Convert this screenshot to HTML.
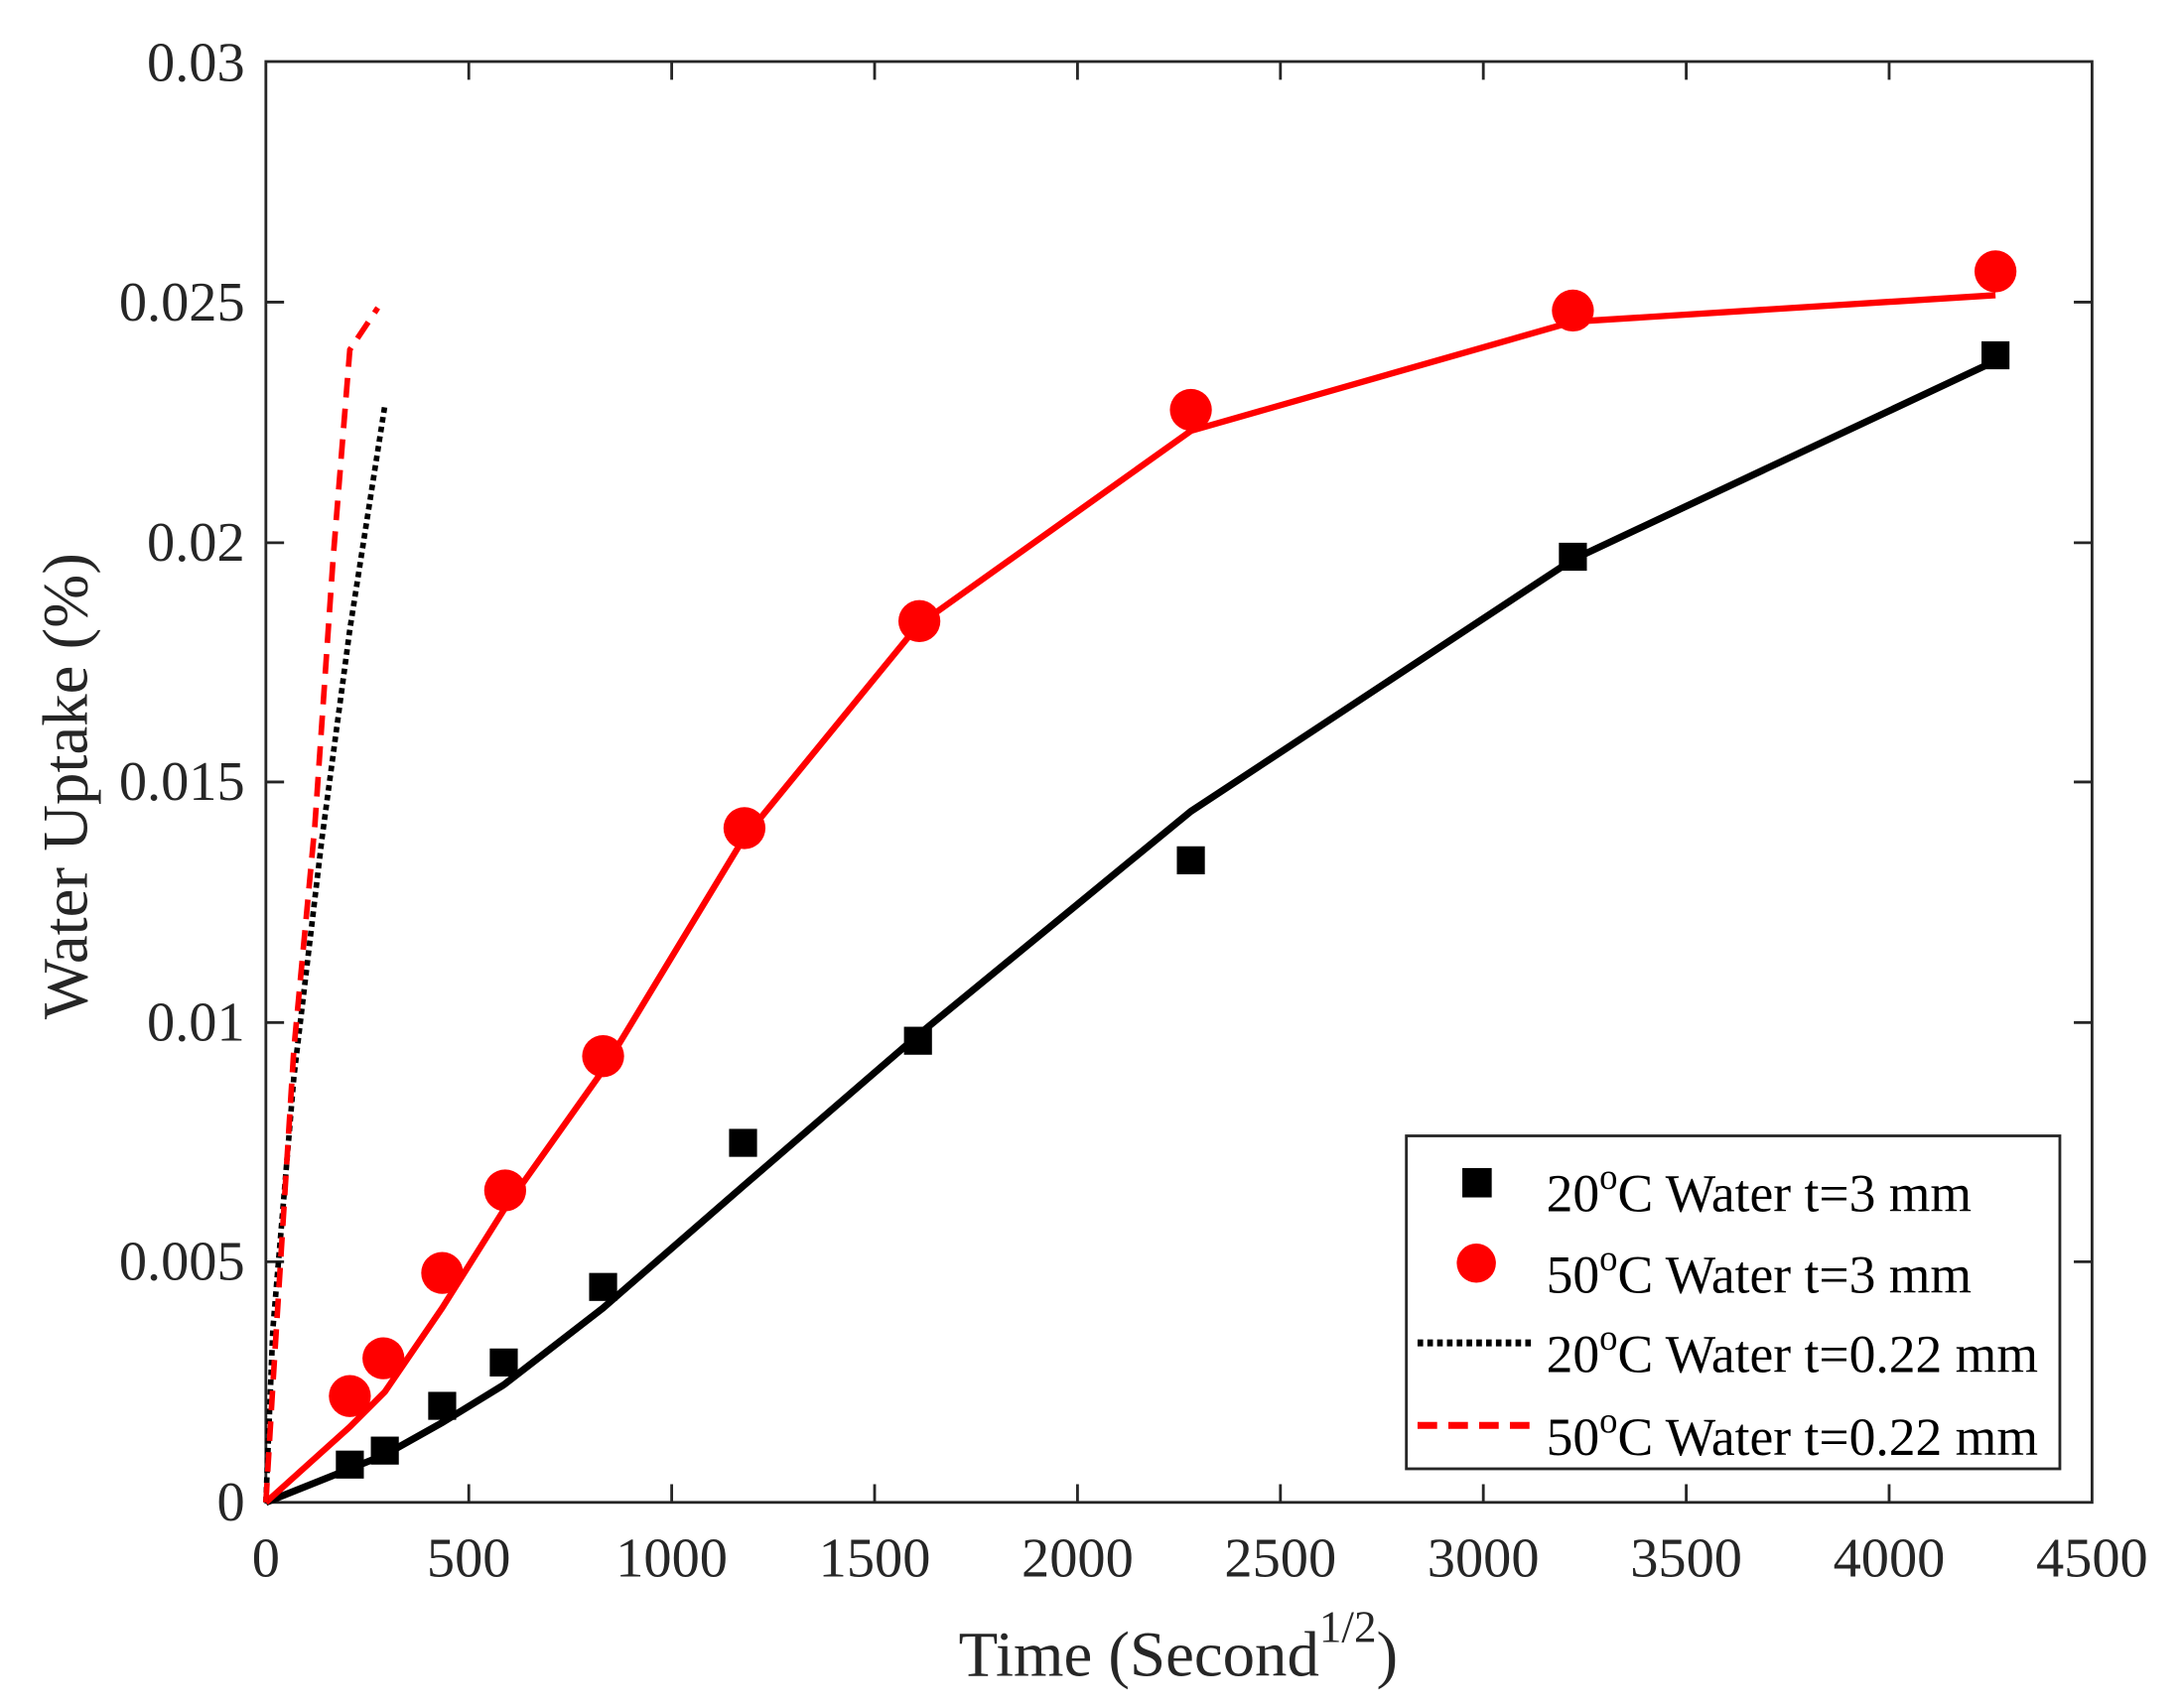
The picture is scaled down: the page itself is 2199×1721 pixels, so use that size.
<!DOCTYPE html>
<html><head><style>html,body{margin:0;padding:0;background:#fff}svg{display:block}</style></head>
<body>
<svg width="2199" height="1721" viewBox="0 0 1560 1221" preserveAspectRatio="none" xmlns="http://www.w3.org/2000/svg" font-family="Liberation Serif, serif">
<rect width="1560" height="1221" fill="#fff"/>
<rect x="190" y="44" width="1305" height="1030" fill="none" stroke="#262626" stroke-width="2"/>
<g stroke="#262626" stroke-width="2">
<path d="M335,1074v-13M480,1074v-13M625,1074v-13M770,1074v-13M915,1074v-13M1060,1074v-13M1205,1074v-13M1350,1074v-13"/>
<path d="M335,44v13M480,44v13M625,44v13M770,44v13M915,44v13M1060,44v13M1205,44v13M1350,44v13"/>
<path d="M190,902h13M190,731h13M190,559h13M190,388h13M190,216h13"/>
<path d="M1495,902h-13M1495,731h-13M1495,559h-13M1495,388h-13M1495,216h-13"/>
</g>
<g fill="#262626" font-size="40" text-anchor="middle">
<text x="190" y="1127">0</text><text x="335" y="1127">500</text><text x="480" y="1127">1000</text><text x="625" y="1127">1500</text><text x="770" y="1127">2000</text><text x="915" y="1127">2500</text><text x="1060" y="1127">3000</text><text x="1205" y="1127">3500</text><text x="1350" y="1127">4000</text><text x="1495" y="1127">4500</text>
</g>
<g fill="#262626" font-size="40" text-anchor="end">
<text x="175" y="1087">0</text><text x="175" y="915">0.005</text><text x="175" y="744">0.01</text><text x="175" y="572">0.015</text><text x="175" y="401">0.02</text><text x="175" y="229">0.025</text><text x="175" y="58">0.03</text>
</g>
<text x="842" y="1198" font-size="46" fill="#262626" text-anchor="middle">Time (Second<tspan dy="-24" font-size="32">1/2</tspan><tspan dy="24">)</tspan></text>
<text transform="translate(62,562) rotate(-90)" font-size="46" fill="#262626" text-anchor="middle">Water Uptake (%)</text>
<polyline fill="none" stroke="#000" stroke-width="5" points="190,1074 250,1050 275,1040 316,1017 360,990 431,935 531,848 656,740 851,580 1124,400 1426,258"/>
<polyline fill="none" stroke="#f00" stroke-width="4.5" points="190,1074 250,1020 275,995 316,935 360,865 431,765 531,600 656,447 851,308 1124,230 1426,211"/>
<polyline fill="none" stroke="#000" stroke-width="4" stroke-dasharray="4,3" points="190,1074 195,950 210,770 230,600 250,450 275,290"/>
<polyline fill="none" stroke="#f00" stroke-width="4" stroke-dasharray="14,8" points="190,1074 195,990 210,750 225,590 238,400 250,250 270,220"/>
<g fill="#000">
<rect x="240" y="1037" width="20" height="20"/><rect x="265" y="1027" width="20" height="20"/><rect x="306" y="995" width="20" height="20"/><rect x="350" y="964" width="20" height="20"/><rect x="421" y="910" width="20" height="20"/><rect x="521" y="807" width="20" height="20"/><rect x="646" y="734" width="20" height="20"/><rect x="841" y="605" width="20" height="20"/><rect x="1114" y="388" width="20" height="20"/><rect x="1416" y="244" width="20" height="20"/>
</g>
<g fill="#f00">
<circle cx="250" cy="998" r="15"/><circle cx="274" cy="971" r="15"/><circle cx="316" cy="910" r="15"/><circle cx="361" cy="851" r="15"/><circle cx="431" cy="755" r="15"/><circle cx="532" cy="592" r="15"/><circle cx="657" cy="444" r="15"/><circle cx="851" cy="293" r="15"/><circle cx="1124" cy="222" r="15"/><circle cx="1426" cy="194" r="15"/>
</g>
<rect x="1005" y="812" width="467" height="238" fill="#fff" stroke="#262626" stroke-width="2"/>
<rect x="1045" y="835" width="21" height="21" fill="#000"/>
<circle cx="1055" cy="903" r="14" fill="#f00"/>
<line x1="1013" y1="960" x2="1097" y2="960" stroke="#000" stroke-width="5" stroke-dasharray="4,3"/>
<line x1="1013" y1="1019" x2="1100" y2="1019" stroke="#f00" stroke-width="5" stroke-dasharray="14,8"/>
<g font-size="38" fill="#000">
<text x="1105" y="866">20<tspan dy="-16" font-size="26">o</tspan><tspan dy="16">C Water t=3 mm</tspan></text>
<text x="1105" y="924">50<tspan dy="-16" font-size="26">o</tspan><tspan dy="16">C Water t=3 mm</tspan></text>
<text x="1105" y="981">20<tspan dy="-16" font-size="26">o</tspan><tspan dy="16">C Water t=0.22 mm</tspan></text>
<text x="1105" y="1040">50<tspan dy="-16" font-size="26">o</tspan><tspan dy="16">C Water t=0.22 mm</tspan></text>
</g>
</svg>
</body></html>
